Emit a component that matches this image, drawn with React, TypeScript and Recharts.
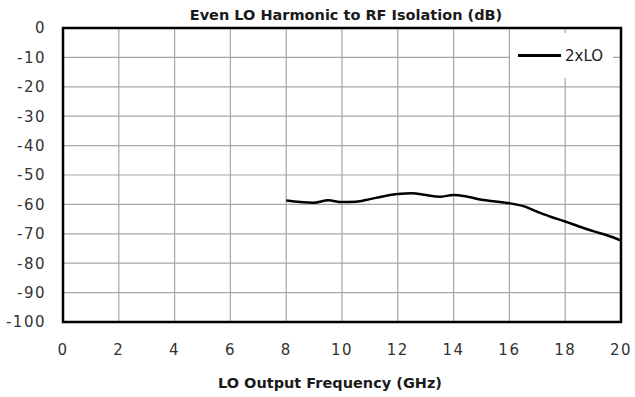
import {
  LineChart,
  Line,
  XAxis,
  YAxis,
  CartesianGrid,
  ReferenceArea,
} from "recharts";

const freqGHz = [
  8, 8.5, 9, 9.5, 10, 10.5, 11, 11.5, 12, 12.5, 13, 13.5, 14, 14.5, 15, 15.5,
  16, 16.5, 17, 17.5, 18, 18.5, 19, 19.5, 20,
];
const isolation2xLO = [
  -58.7, -59.2, -59.4, -58.6, -59.2, -59.1, -58.2, -57.2, -56.5, -56.2, -56.8,
  -57.4, -56.8, -57.4, -58.4, -59.0, -59.6, -60.6, -62.5, -64.3, -65.8, -67.5,
  -69.1, -70.5, -72.3,
];
const xTicks = [0, 2, 4, 6, 8, 10, 12, 14, 16, 18, 20];
const yTicks = [0, -10, -20, -30, -40, -50, -60, -70, -80, -90, -100];

const data = freqGHz.map((f, i) => ({ f, v: isolation2xLO[i] }));

const FONT = "'DejaVu Sans', sans-serif";

export default function App() {
  return (
    <div style={{ position: "absolute", left: 0, top: 0, width: 635, height: 397, background: "#fff" }}>
      <div
        style={{
          position: "absolute",
          top: 7,
          left: 146,
          width: 400,
          textAlign: "center",
          fontFamily: FONT,
          fontWeight: "bold",
          fontSize: 14.5,
          lineHeight: "normal",
          color: "#1a1a1a",
          whiteSpace: "nowrap",
        }}
      >
        Even LO Harmonic to RF Isolation (dB)
      </div>
      <LineChart
        width={635}
        height={397}
        data={data}
        margin={{ top: 28, right: 14, bottom: 0, left: 0 }}
      >
        <CartesianGrid stroke="#a6a6a6" strokeWidth={1.2} />
        <XAxis
          dataKey="f"
          type="number"
          domain={[0, 20]}
          ticks={xTicks}
          height={75}
          axisLine={false}
          tickLine={false}
          tickMargin={16}
          tick={{ fontFamily: FONT, fontSize: 15, fill: "#333", letterSpacing: 1.5 }}
          label={{
            value: "LO Output Frequency (GHz)",
            position: "insideBottom",
            offset: 9,
            dx: -12,
            style: { fontFamily: FONT, fontWeight: "bold", fontSize: 14.5, fill: "#1a1a1a" },
          }}
        />
        <YAxis
          type="number"
          domain={[-100, 0]}
          ticks={yTicks}
          width={63}
          axisLine={false}
          tickLine={false}
          tickMargin={11}
          tick={{ fontFamily: FONT, fontSize: 15, fill: "#333", letterSpacing: 1.5 }}
        />
        <ReferenceArea
          x1={0}
          x2={20}
          y1={-100}
          y2={0}
          fill="none"
          stroke="#000"
          strokeWidth={2.5}
        />
        <Line
          dataKey="v"
          name="2xLO"
          type="monotone"
          stroke="#000"
          strokeWidth={2.5}
          dot={false}
          isAnimationActive={false}
        />
      </LineChart>
      <div
        style={{
          position: "absolute",
          left: 510,
          top: 33,
          width: 103,
          height: 45,
          background: "#fff",
          display: "flex",
          alignItems: "center",
          fontFamily: FONT,
          fontSize: 15,
          color: "#222",
        }}
      >
        <div style={{ width: 43, height: 3, background: "#000", marginLeft: 8, marginRight: 4 }} />
        <span>2xLO</span>
      </div>
    </div>
  );
}
